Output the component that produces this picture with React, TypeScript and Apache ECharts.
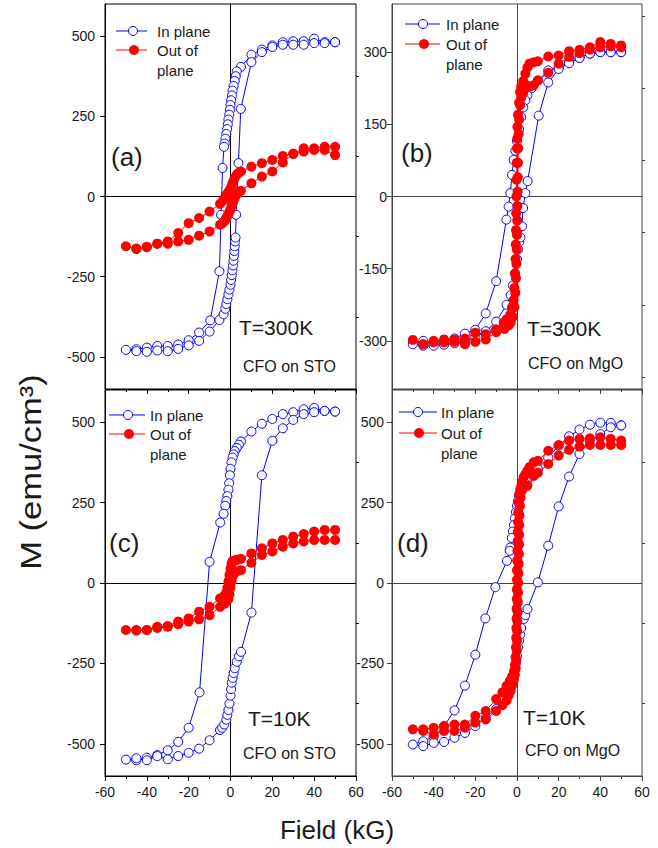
import React, { useEffect, useRef } from "react";
import * as echarts from "echarts";

// ---------- data (Field in kG, M in emu/cm3) ----------
// (a) CFO on STO, T = 300 K
const aInDown = [[50,481],[45,481],[40,492],[35,484],[30,484],[25,481],[20,471],[15,458],[10,442],[5,404],[3,390],[2.5,375],[2,360],[1.5,345],[1,330],[0.7,315],[0.3,300],[0,285],[-0.3,270],[-0.6,255],[-1,240],[-1.3,225],[-1.6,210],[-2,195],[-2.4,180],[-2.8,165],[-3.1,155],[-3.8,89],[-4.5,-57],[-5.3,-233],[-9.7,-386],[-15,-424],[-20,-448],[-25,-461],[-30,-466],[-35,-466],[-40,-471],[-45,-476],[-50,-478]];
const aInUp = [[-45,-482],[-40,-484],[-35,-480],[-30,-482],[-25,-475],[-20,-464],[-15,-450],[-10,-421],[-5.3,-385],[-3.3,-367],[-2.5,-350],[-2,-335],[-1.5,-320],[-1,-305],[-0.5,-290],[0,-275],[0.3,-260],[0.6,-245],[0.9,-230],[1.2,-215],[1.4,-200],[1.6,-185],[1.8,-170],[2,-155],[2.2,-140],[2.4,-128],[2.7,-57],[3.8,104],[4.9,273],[10,419],[15,450],[20,466],[25,473],[30,473],[35,473],[40,478],[45,478],[50,481]];
const aOutDown = [[50,155],[45,155],[40,150],[35,150],[30,133],[25,126],[20,114],[15,104],[10,93],[5,78],[4,74],[3,68],[2,58],[1.5,50],[1,42],[0.5,32],[0,24],[-0.5,18],[-1,14],[-1.5,8],[-2,4],[-2.5,-2],[-3,-7],[-3.5,-12],[-5,-23],[-10,-47],[-15,-67],[-20,-83],[-25,-114],[-30,-140],[-35,-147],[-40,-157],[-45,-164],[-50,-155]];
const aOutUp = [[-45,-162],[-40,-158],[-35,-147],[-30,-147],[-25,-140],[-20,-135],[-15,-122],[-10,-109],[-5,-88],[-4,-84],[-3,-78],[-2.4,-72],[-1.8,-65],[-1.2,-57],[-0.6,-49],[0,-41],[0.5,-30],[1,-20],[1.5,-12],[2,-5],[2.5,2],[3,8],[4,15],[5,18],[10,41],[15,62],[20,78],[25,106],[30,133],[35,140],[40,145],[45,145],[50,129]];

// (b) CFO on MgO, T = 300 K
const bInDown = [[50,300],[45,300],[40,300],[35,297],[30,288],[25,279],[20,268],[15,262],[10,241],[7,225],[5,210],[4,200],[3,185],[2,165],[1,140],[0,115],[-0.8,95],[-1.6,76],[-2.4,45],[-3.2,7],[-4,-21],[-5.1,-48],[-10,-176],[-15,-243],[-20,-277],[-25,-285],[-30,-295],[-35,-303],[-40,-303],[-45,-300],[-50,-307]];
const bInUp = [[-45,-310],[-40,-310],[-35,-308],[-30,-305],[-25,-300],[-20,-293],[-15,-280],[-10,-260],[-5,-225],[-3,-205],[-2,-185],[-1,-160],[0,-130],[0.5,-110],[1,-95],[1.6,-85],[2.4,-62],[2.9,-24],[4,7],[5.1,32],[10.4,168],[15,237],[20,265],[25,277],[30,288],[35,297],[40,300],[45,300],[50,300]];
const bOutDown = [[50,314],[45,317],[40,321],[35,310],[30,305],[25,302],[20,293],[15,291],[10,281],[8,279],[6,276],[5,268],[4,255],[3,240],[2,228],[1.5,217],[1,195],[0.5,170],[0.2,145],[0.1,120],[0,100],[-0.1,70],[-0.2,35],[-0.3,0],[-0.4,-35],[-0.5,-70],[-0.6,-100],[-0.7,-130],[-0.9,-160],[-1.2,-190],[-1.6,-215],[-2.4,-230],[-3.2,-245],[-5,-255],[-6.4,-262],[-10,-276],[-15,-286],[-20,-283],[-25,-295],[-30,-297],[-35,-297],[-40,-300],[-45,-307],[-50,-298]];
const bOutUp = [[-45,-307],[-40,-303],[-35,-303],[-30,-302],[-25,-307],[-20,-302],[-15,-297],[-10,-282],[-6,-275],[-4,-268],[-3,-262],[-2,-250],[-1.2,-230],[-0.8,-200],[-0.5,-170],[-0.3,-140],[-0.1,-110],[0,-80],[0.1,-50],[0.2,-20],[0.3,10],[0.4,40],[0.5,70],[0.6,100],[0.8,130],[1,160],[1.5,190],[2,205],[3,215],[4,225],[5,230],[6,228],[8,231],[10,241],[15,257],[20,276],[25,290],[30,298],[35,305],[40,310],[45,312],[50,310]];

// (c) CFO on STO, T = 10 K
const cInDown = [[50,533],[45,535],[40,544],[35,540],[30,531],[25,525],[20,510],[15,495],[10,471],[5,440],[4,430],[3,420],[2,410],[1.5,400],[1,390],[0.5,375],[0,355],[-0.3,335],[-0.6,310],[-1,290],[-1.5,270],[-2,255],[-2.5,240],[-3.3,215],[-4.9,188],[-10,66],[-14.8,-340],[-20,-450],[-25,-494],[-30,-520],[-35,-535],[-40,-543],[-45,-551],[-50,-549]];
const cInUp = [[-45,-545],[-40,-551],[-35,-538],[-30,-548],[-25,-538],[-20,-528],[-15,-515],[-10,-489],[-5,-457],[-4,-450],[-3,-440],[-2,-425],[-1.5,-410],[-1,-395],[-0.5,-375],[0,-350],[0.3,-330],[0.6,-310],[1,-295],[1.5,-280],[2,-265],[3,-245],[4,-228],[5,-214],[10,-92],[15,335],[20,442],[25,481],[30,507],[35,525],[40,531],[45,535],[50,533]];
const cOutDown = [[50,165],[45,165],[40,160],[35,152],[30,144],[25,134],[20,123],[15,108],[10,92],[5,75],[3,72],[2,70],[1,68],[0.5,60],[0,45],[-0.5,25],[-1,5],[-1.5,-15],[-2,-30],[-3,-40],[-5,-48],[-10,-74],[-15,-89],[-20,-110],[-25,-120],[-30,-134],[-35,-136],[-40,-146],[-45,-146],[-50,-146]];
const cOutUp = [[-45,-148],[-40,-146],[-35,-140],[-30,-136],[-25,-128],[-20,-120],[-15,-113],[-10,-100],[-5,-74],[-3,-65],[-2,-58],[-1,-50],[-0.5,-35],[0,-15],[0.5,5],[1,20],[2,32],[3,36],[5,40],[10,63],[15,87],[20,98],[25,113],[30,123],[35,129],[40,134],[45,134],[50,134]];

// (d) CFO on MgO, T = 10 K
const dInDown = [[50,490],[45,498],[40,498],[35,492],[30,477],[25,456],[20,427],[15,390],[10,354],[7,335],[5,320],[4,310],[3,300],[2,285],[1,270],[0.5,255],[0,240],[-0.5,220],[-1,200],[-1.5,180],[-2,160],[-2.5,140],[-3.2,110],[-3.5,100],[-4.8,69],[-10.4,-13],[-15.2,-110],[-20,-223],[-25,-319],[-30,-396],[-35,-445],[-40,-478],[-45,-492],[-50,-502]];
const dInUp = [[-45,-507],[-40,-497],[-35,-494],[-30,-481],[-25,-466],[-20,-445],[-15,-418],[-10,-392],[-6.4,-360],[-4,-330],[-3,-310],[-1.6,-288],[-1,-270],[-0.5,-250],[0,-226],[0.5,-200],[1,-180],[1.5,-160],[2,-140],[3.2,-112],[4,-100],[5,-81],[10,2],[15,116],[20,238],[25,331],[30,401],[35,443],[40,463],[45,484],[50,490]];
const dOutDown = [[50,443],[45,448],[40,453],[35,450],[30,448],[25,443],[20,429],[15,411],[10,380],[8,375],[6,360],[5,349],[4,338],[3.2,329],[2.5,315],[2,300],[1.5,290],[1,275],[0.8,250],[0.6,220],[0.5,190],[0.4,160],[0.3,130],[0.2,100],[0.1,70],[0,40],[0,10],[-0.1,-20],[-0.1,-50],[-0.2,-80],[-0.2,-110],[-0.3,-140],[-0.4,-170],[-0.5,-200],[-0.7,-230],[-1,-255],[-1.5,-275],[-2.3,-290],[-3.5,-305],[-5,-320],[-7,-340],[-10,-361],[-15,-398],[-20,-413],[-25,-440],[-30,-440],[-35,-445],[-40,-450],[-45,-455],[-50,-455]];
const dOutUp = [[-45,-460],[-40,-471],[-35,-460],[-30,-460],[-25,-450],[-20,-434],[-15,-424],[-10,-398],[-7,-380],[-5,-365],[-4,-350],[-3,-335],[-2.3,-318],[-1.5,-300],[-1,-285],[-0.6,-265],[-0.3,-240],[-0.1,-210],[0,-180],[0.1,-150],[0.2,-120],[0.3,-90],[0.4,-60],[0.5,-30],[0.6,0],[0.7,30],[0.8,60],[0.9,90],[1,120],[1,150],[1.1,180],[1.2,210],[1.4,240],[1.7,265],[2.2,285],[3,296],[4,300],[5,302],[8,333],[10,343],[15,370],[20,396],[25,414],[30,424],[35,429],[40,429],[45,429],[50,429]];

// ---------- axis ticks / labels ----------
const fieldMin = -60;
const fieldMax = 60;
const fieldStep = 20;
const stoRange = [-600, 600];
const stoLabels = [-500, -250, 0, 250, 500];
const stoMinor = [-375, -125, 125, 375];
const mgo300Range = [-400, 400];
const mgo300Labels = [-300, -150, 0, 150, 300];
const mgo300Minor = [-375, -225, -75, 75, 225, 375];

const panelTags = ["(a)", "(b)", "(c)", "(d)"];
const temps = ["T=300K", "T=300K", "T=10K", "T=10K"];
const substrates = ["CFO on STO", "CFO on MgO", "CFO on STO", "CFO on MgO"];
const seriesNames = ["In plane", "Out of plane"];

const FONT = '"Liberation Sans", Arial, Helvetica, sans-serif';
const BLUE = "#0000ff";
const RED = "#ff0000";
const TEXT = "#1a1a1a";

export default function App() {
  const ref = useRef<HTMLDivElement>(null);

  useEffect(() => {
    if (!ref.current) return;
    const chart = echarts.init(ref.current, undefined, { renderer: "svg" });

    const panels = [
      { grid: { left: 105, top: 4, width: 251, height: 385 }, range: stoRange, labels: stoLabels, minor: stoMinor, margin: 10, frame: "#000", bottom: false, inn: [aInDown, aInUp], out: [aOutDown, aOutUp] },
      { grid: { left: 392, top: 4, width: 250, height: 385 }, range: mgo300Range, labels: mgo300Labels, minor: mgo300Minor, margin: 5, frame: "#444", bottom: false, inn: [bInDown, bInUp], out: [bOutDown, bOutUp] },
      { grid: { left: 105, top: 390, width: 251, height: 386 }, range: stoRange, labels: stoLabels, minor: stoMinor, margin: 10, frame: "#000", bottom: true, inn: [cInDown, cInUp], out: [cOutDown, cOutUp] },
      { grid: { left: 392, top: 390, width: 250, height: 386 }, range: stoRange, labels: stoLabels, minor: stoMinor, margin: 8, frame: "#444", bottom: true, inn: [dInDown, dInUp], out: [dOutDown, dOutUp] },
    ];

    const legendPos = [
      { x1: 116, x2: 147, bx: 133, by: 31, ry: 50, tx: 157 },
      { x1: 405, x2: 440, bx: 423, by: 24, ry: 44, tx: 446 },
      { x1: 109, x2: 145, bx: 128, by: 415, ry: 434, tx: 150 },
      { x1: 399, x2: 437, bx: 418, by: 412, ry: 433, tx: 441 },
    ];
    const tagPos = [[111, 157], [401, 153], [109, 543], [397, 543]];
    const tempPos = [[239, 327], [527, 328], [248, 718], [523, 717]];
    const subPos = [[243, 366], [528, 363], [243, 753], [525, 750]];

    const grid: any[] = [];
    const xAxis: any[] = [];
    const yAxis: any[] = [];
    const series: any[] = [];
    const graphic: any[] = [];

    panels.forEach((p, i) => {
      grid.push({ ...p.grid, show: true, borderColor: p.frame, borderWidth: 1, backgroundColor: "transparent", containLabel: false });
      xAxis.push({
        type: "value", gridIndex: i, min: fieldMin, max: fieldMax, interval: fieldStep,
        axisLine: { show: true, onZero: false, lineStyle: { color: p.frame, width: 1 } },
        axisTick: { show: true, inside: false, length: 5, lineStyle: { color: p.frame } },
        minorTick: { show: true, splitNumber: 2, length: 3, lineStyle: { color: p.frame } },
        axisLabel: { show: p.bottom, margin: 9, color: TEXT, fontSize: 14, fontFamily: FONT, showMinLabel: true, showMaxLabel: true },
        splitLine: { show: false }, minorSplitLine: { show: false },
      });
      yAxis.push({
        type: "value", gridIndex: i, min: p.range[0], max: p.range[1],
        axisLine: { show: true, onZero: false, lineStyle: { color: p.frame, width: 1 } },
        axisTick: { show: true, inside: false, length: 5, customValues: p.labels, lineStyle: { color: p.frame } },
        axisLabel: { show: true, customValues: p.labels, margin: p.margin, color: TEXT, fontSize: 14, fontFamily: FONT },
        splitLine: { show: false },
      });
      yAxis.push({
        type: "value", gridIndex: i, min: p.range[0], max: p.range[1],
        axisLine: { show: false, onZero: false },
        axisTick: { show: true, inside: false, length: 3, customValues: p.minor, lineStyle: { color: p.frame } },
        axisLabel: { show: false },
        splitLine: { show: false },
      });
      series.push({
        name: seriesNames[0], type: "line", xAxisIndex: i, yAxisIndex: 2 * i, z: 2,
        data: [...p.inn[0], ...p.inn[1]],
        symbol: "circle", symbolSize: 9, showSymbol: true,
        lineStyle: { color: BLUE, width: 1 },
        itemStyle: { color: "#ffffff", borderColor: BLUE, borderWidth: 1 },
        emphasis: { disabled: true },
        markLine: {
          silent: true, symbol: "none", z: 1, animation: false,
          label: { show: false },
          lineStyle: { color: p.frame, width: 1, type: "solid" },
          emphasis: { disabled: true },
          data: [{ xAxis: 0 }, { yAxis: 0 }],
        },
      });
      series.push({
        name: seriesNames[1], type: "line", xAxisIndex: i, yAxisIndex: 2 * i, z: 3,
        data: [...p.out[0], ...p.out[1]],
        symbol: "circle", symbolSize: 10, showSymbol: true,
        lineStyle: { color: RED, width: 1 },
        itemStyle: { color: RED, borderColor: RED, borderWidth: 0 },
        emphasis: { disabled: true },
      });

      const L = legendPos[i];
      graphic.push(
        { type: "line", shape: { x1: L.x1, y1: L.by, x2: L.x2, y2: L.by }, style: { stroke: BLUE, lineWidth: 1 }, z: 10 },
        { type: "circle", shape: { cx: L.bx, cy: L.by, r: 4.5 }, style: { stroke: BLUE, fill: "#fff", lineWidth: 1 }, z: 11 },
        { type: "line", shape: { x1: L.x1, y1: L.ry, x2: L.x2, y2: L.ry }, style: { stroke: RED, lineWidth: 1 }, z: 10 },
        { type: "circle", shape: { cx: L.bx + 1, cy: L.ry, r: 5 }, style: { fill: RED }, z: 11 },
        { type: "text", x: L.tx, y: L.by, z: 11, style: { text: seriesNames[0], font: `15px ${FONT}`, fill: TEXT, align: "left", verticalAlign: "middle", textAlign: "left", textVerticalAlign: "middle" } },
        { type: "text", x: L.tx, y: L.ry - 10, z: 11, style: { text: "Out of\nplane", font: `15px ${FONT}`, lineHeight: 20, fill: TEXT, align: "left", verticalAlign: "top", textAlign: "left", textVerticalAlign: "top" } },
        { type: "text", x: tagPos[i][0], y: tagPos[i][1], z: 11, style: { text: panelTags[i], font: `26px ${FONT}`, fill: TEXT, align: "left", verticalAlign: "middle", textAlign: "left", textVerticalAlign: "middle" } },
        { type: "text", x: tempPos[i][0], y: tempPos[i][1], z: 11, style: { text: temps[i], font: `21px ${FONT}`, fill: TEXT, align: "left", verticalAlign: "middle", textAlign: "left", textVerticalAlign: "middle" } },
        { type: "text", x: subPos[i][0], y: subPos[i][1], z: 11, style: { text: substrates[i], font: `16px ${FONT}`, fill: TEXT, align: "left", verticalAlign: "middle", textAlign: "left", textVerticalAlign: "middle" } },
      );
    });

    graphic.push(
      { type: "text", x: 337, y: 830, z: 11, style: { text: "Field (kG)", font: `26px ${FONT}`, fill: TEXT, align: "center", verticalAlign: "middle", textAlign: "center", textVerticalAlign: "middle" } },
      { type: "text", x: 31, y: 472, rotation: Math.PI / 2, scaleX: 1.15, z: 11, style: { text: "M (emu/cm³)", font: `30px ${FONT}`, fill: TEXT, align: "center", verticalAlign: "middle", textAlign: "center", textVerticalAlign: "middle" } },
    );

    chart.setOption({
      animation: false,
      backgroundColor: "#ffffff",
      grid, xAxis, yAxis, series, graphic,
    });

    return () => chart.dispose();
  }, []);

  return <div ref={ref} style={{ position: "absolute", left: 0, top: 0, width: 658, height: 848 }} />;
}
